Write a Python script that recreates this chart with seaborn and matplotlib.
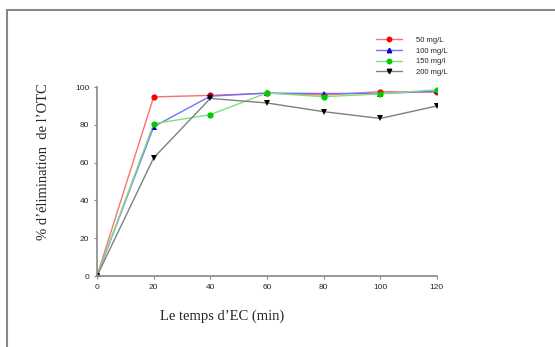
import matplotlib
matplotlib.use("Agg")
import matplotlib.pyplot as plt
import seaborn as sns
import pandas as pd
from matplotlib.lines import Line2D

time_min = [0, 20, 40, 60, 80, 100, 120]
c50 = [0, 94.8, 95.6, 96.8, 95.8, 97.6, 97.3]
c100 = [0, 79.0, 95.2, 96.8, 96.6, 96.6, 97.8]
c150 = [0, 80.6, 85.4, 96.9, 94.9, 96.4, 98.6]
c200 = [0, 62.5, 94.0, 91.6, 87.0, 83.4, 90.0]
labels = ["50 mg/L", "100 mg/L", "150 mg/l", "200 mg/L"]

rows = []
for lab, vals in zip(labels, [c50, c100, c150, c200]):
    for t, v in zip(time_min, vals):
        rows.append({"t": t, "v": v, "c": lab})
df = pd.DataFrame(rows)

sns.set_style("white")
plt.rcParams["font.family"] = ["Liberation Sans", "DejaVu Sans"]

fig = plt.figure(figsize=(5.55, 3.47), dpi=100)
ax = fig.add_axes([0.1748, 0.2046, 0.787 - 0.1748, 0.749 - 0.2046])

marker_cols = {"50 mg/L": "#ff0000", "100 mg/L": "#0000cc", "150 mg/l": "#00cc00", "200 mg/L": "#000000"}
line_cols = {"50 mg/L": "#ff7070", "100 mg/L": "#7070ff", "150 mg/l": "#80e080", "200 mg/L": "#808080"}
markers = {"50 mg/L": "o", "100 mg/L": "^", "150 mg/l": "o", "200 mg/L": "v"}

sns.lineplot(data=df, x="t", y="v", hue="c", style="c", palette=line_cols,
             markers=markers, dashes=False, ax=ax, legend=False, linewidth=1.0,
             markersize=4.5, markeredgewidth=0)
for line, lab in zip(ax.lines, labels):
    line.set_markerfacecolor(marker_cols[lab])
    line.set_markeredgecolor(marker_cols[lab])

ax.set_xlim(0, 120)
ax.set_ylim(0, 100)
ax.set_xticks(time_min)
ax.set_yticks([0, 20, 40, 60, 80, 100])
for s in ["top", "right"]:
    ax.spines[s].set_visible(False)
for s in ["left", "bottom"]:
    ax.spines[s].set_color("#888888")
    ax.spines[s].set_linewidth(1.2)
ax.tick_params(axis="both", labelsize=6, length=2.5, width=0.8, color="#888888",
               direction="out", pad=3, left=True, bottom=True)
ax.set_xlabel("")
ax.set_ylabel("")

handles = [Line2D([0], [0], color=line_cols[l], marker=markers[l], markersize=3.2,
                  markerfacecolor=marker_cols[l], markeredgecolor=marker_cols[l], lw=1.0)
           for l in labels]
fig.legend(handles, labels, loc="upper left", bbox_to_anchor=(0.665, 0.915), frameon=False,
           fontsize=5.5, handlelength=3.4, labelspacing=0.45, handletextpad=1.8)

fig.text(0.40, 0.09, "Le temps d\u2019EC (min)", family="Liberation Serif", fontsize=10.5,
         ha="center", va="center")
fig.text(0.078, 0.535, "% d\u2019\u00e9limination  de l\u2019OTC", family="Liberation Serif",
         fontsize=10.5, rotation=90, ha="center", va="center")

fig.add_artist(Line2D([0.0126, 1.0], [1 - 10 / 347, 1 - 10 / 347], color="#888888", lw=1.5,
                      transform=fig.transFigure))
fig.add_artist(Line2D([0.0126, 0.0126], [0, 1 - 10 / 347], color="#888888", lw=1.5,
                      transform=fig.transFigure))

fig.savefig("out.png", dpi=100)
